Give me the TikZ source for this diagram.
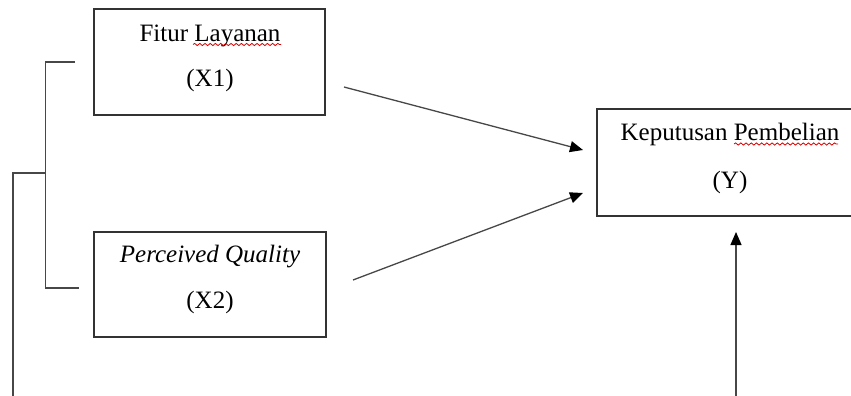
\documentclass[tikz,border=0pt]{standalone}
\usepackage{fontspec}
\setmainfont{Liberation Serif}
\usetikzlibrary{arrows.meta,decorations.pathmorphing}
\begin{document}
\begin{tikzpicture}[x=0.5pt,y=-0.5pt,
  box/.style={draw=black!80,line width=0.6pt,fill=none,inner sep=0pt},
  lbl/.style={anchor=base,inner sep=0pt,font=\fontsize{12.5pt}{15pt}\selectfont},
  link/.style={draw=black!72,line width=0.65pt},
  arr/.style={link,-{Triangle[length=6.5pt,width=5.5pt,color=black]}},
  squig/.style={draw=red!85!black,line width=0.4pt,decorate,decoration={snake,amplitude=0.55pt,segment length=2.6pt}}]
\useasboundingbox (0,0) rectangle (851,396);
\clip (0,0) rectangle (851,396);
% boxes
\node[box,minimum width=115.5pt,minimum height=53pt] (x1) at (209.5,62) {};
\node[box,minimum width=116pt,minimum height=52.5pt] (x2) at (210,284.5) {};
\node[box,minimum width=133pt,minimum height=53.5pt] (y) at (730,162.5) {};
% labels
\node[lbl] (x1a) at (210,41) {Fitur Layanan};
\node[lbl] (x1b) at (210,86) {(X1)};
\node[lbl] (x2a) at (210,262) {\itshape Perceived Quality};
\node[lbl] (x2b) at (210,308) {(X2)};
\node[lbl] (ya) at (730,140) {Keputusan Pembelian};
\node[lbl] (yb) at (730,188) {(Y)};
% spell-check squiggles
\draw[squig] (193,44.5) -- (281,44.5);
\draw[squig] (734,144) -- (838,144);
% bracket
\coordinate (bt) at (75,62);
\coordinate (btc) at (45.5,62);
\coordinate (bbc) at (45.5,288);
\coordinate (bb) at (79,288);
\coordinate (bm) at (45.5,173);
\coordinate (lm) at (13,173);
\coordinate (lb) at (13,396);
\draw[link] (bt) -- (btc) -- (bbc) -- (bb);
\draw[link] (bm) -- (lm) -- (lb);
% arrows
\coordinate (a1s) at (344,87);
\coordinate (a1e) at (583,150);
\coordinate (a2s) at (353,280);
\coordinate (a2e) at (583,193);
\coordinate (a3s) at (736,396);
\coordinate (a3e) at (736,232);
\draw[arr] (a1s) -- (a1e);
\draw[arr] (a2s) -- (a2e);
\draw[arr] (a3s) -- (a3e);
\end{tikzpicture}
\end{document}
